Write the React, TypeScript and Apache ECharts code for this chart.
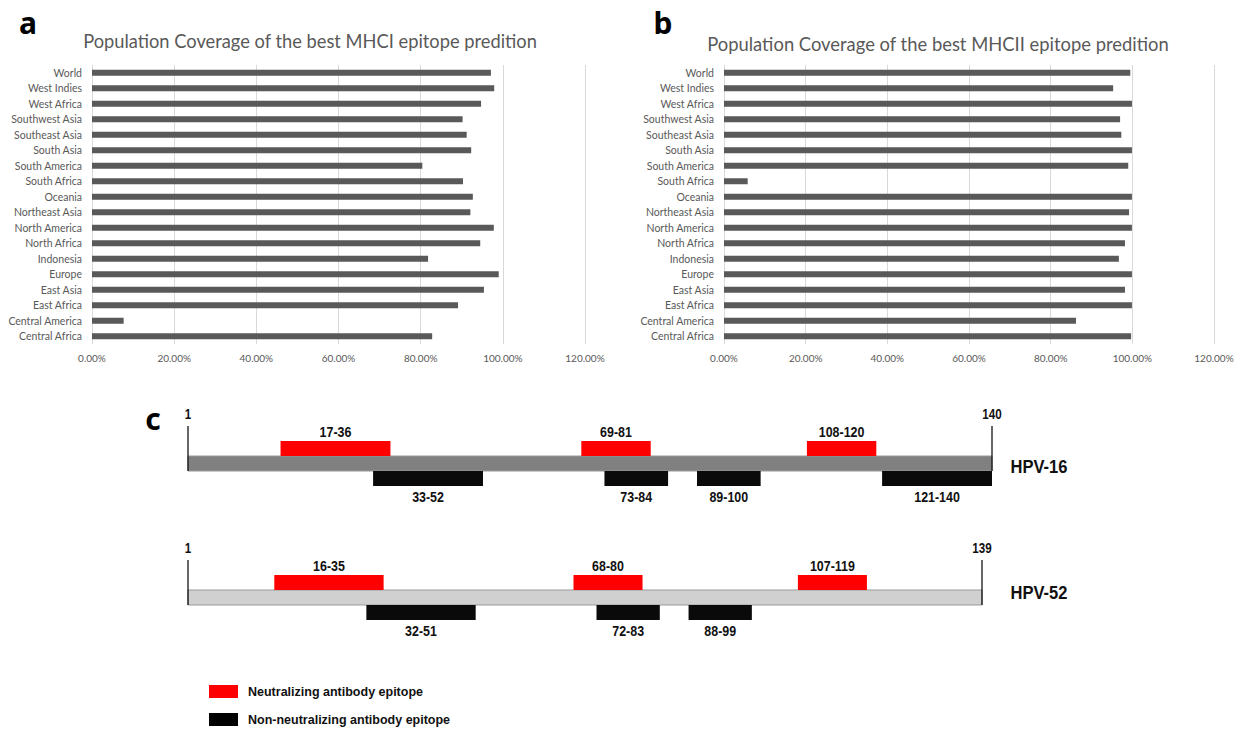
import React, { useEffect, useRef } from "react";
import * as echarts from "echarts";

const regions = ["World", "West Indies", "West Africa", "Southwest Asia", "Southeast Asia", "South Asia", "South America", "South Africa", "Oceania", "Northeast Asia", "North America", "North Africa", "Indonesia", "Europe", "East Asia", "East Africa", "Central America", "Central Africa"];
const mhc1Coverage = [97.1, 97.9, 94.7, 90.2, 91.2, 92.3, 80.4, 90.3, 92.7, 92.1, 97.8, 94.5, 81.8, 99.0, 95.4, 89.1, 7.7, 82.8];
const mhc2Coverage = [99.5, 95.3, 99.9, 97.0, 97.3, 99.9, 99.0, 5.8, 99.9, 99.2, 99.9, 98.2, 96.7, 99.9, 98.2, 99.9, 86.2, 99.7];
const coverageTicks = [0, 20, 40, 60, 80, 100, 120];

const hpv16Length = 140;
const hpv16Neutralizing = [[17, 36], [69, 81], [108, 120]];
const hpv16NonNeutralizing = [[33, 52], [73, 84], [89, 100], [121, 140]];
const hpv52Length = 139;
const hpv52Neutralizing = [[16, 35], [68, 80], [107, 119]];
const hpv52NonNeutralizing = [[32, 51], [72, 83], [88, 99]];

const NEUT = "Neutralizing antibody epitope";
const NONNEUT = "Non-neutralizing antibody epitope";
const BOLDF = '"Liberation Sans", Arial, sans-serif';
const NARROW_SCALE = 0.83;

function barPanel(gridIndex: number, values: number[]) {
  return {
    xAxis: {
      type: "value", gridIndex, min: coverageTicks[0], max: coverageTicks[coverageTicks.length - 1], interval: 20,
      axisLine: { show: false }, axisTick: { show: false },
      splitLine: { show: true, lineStyle: { color: "#d9d9d9", width: 1 } },
      axisLabel: { formatter: (v: number) => v.toFixed(2) + "%", color: "#595959", fontSize: 10, fontFamily: "Lato", margin: 9 },
    },
    yAxis: {
      type: "category", gridIndex, data: regions, inverse: true,
      axisLine: { show: false }, axisTick: { show: false },
      axisLabel: { color: "#595959", fontSize: 10.5, fontFamily: "Lato", margin: 10 },
    },
    series: {
      type: "bar", xAxisIndex: gridIndex, yAxisIndex: gridIndex, data: values, barWidth: 6,
      itemStyle: { color: "#595959" }, silent: true,
    },
  };
}

function narrowText(text: string, x: number, y: number, size: number) {
  return {
    type: "text", x, y, scaleX: NARROW_SCALE,
    style: { text, x: 0, y: 0, align: "center", verticalAlign: "middle", fontSize: size, fontWeight: "bold", fontFamily: BOLDF, fill: "#111" },
  };
}

function epitopeRender(lane: number) {
  return (params: any, api: any) => {
    const s = api.value(0);
    const e = api.value(1);
    const p0 = api.coord([s, lane + 1]);
    const p1 = api.coord([e, lane]);
    const cx = (p0[0] + p1[0]) / 2;
    const ty = lane === 2 ? p0[1] - 9 : p1[1] + 11;
    return {
      type: "group",
      children: [
        { type: "rect", shape: { x: p0[0], y: p0[1], width: p1[0] - p0[0], height: p1[1] - p0[1] }, style: { fill: lane === 2 ? "#ff0000" : "#0a0a0a" } },
        narrowText(`${s}-${e}`, cx, ty, 15),
      ],
    };
  };
}

function backboneRender(fill: string) {
  return (params: any, api: any) => {
    const s = api.value(0);
    const e = api.value(1);
    const p0 = api.coord([s, 2]);
    const p1 = api.coord([e, 1]);
    const top0 = api.coord([s, 4]);
    const top1 = api.coord([e, 4]);
    return {
      type: "group",
      children: [
        { type: "rect", shape: { x: p0[0], y: p0[1], width: p1[0] - p0[0], height: p1[1] - p0[1] }, style: { fill, stroke: "#9a9a9a", lineWidth: 1 } },
        { type: "line", shape: { x1: p0[0], y1: top0[1], x2: p0[0], y2: p1[1] }, style: { stroke: "#000", lineWidth: 1.2 } },
        { type: "line", shape: { x1: p1[0], y1: top1[1], x2: p1[0], y2: p1[1] }, style: { stroke: "#000", lineWidth: 1.2 } },
        narrowText(String(s), p0[0], top0[1] - 12, 14),
        narrowText(String(e), p1[0], top1[1] - 12, 14),
      ],
    };
  };
}

function proteinRow(gridIndex: number, length: number, neut: number[][], nonNeut: number[][], backboneColor: string) {
  return {
    xAxis: { type: "value", gridIndex, min: 1, max: length, show: false },
    yAxis: { type: "value", gridIndex, min: 0, max: 4, show: false },
    series: [
      { type: "custom", name: "backbone" + gridIndex, xAxisIndex: gridIndex, yAxisIndex: gridIndex, data: [[1, length]], renderItem: backboneRender(backboneColor), itemStyle: { color: backboneColor }, silent: true },
      { type: "custom", name: NEUT, xAxisIndex: gridIndex, yAxisIndex: gridIndex, data: neut, renderItem: epitopeRender(2), itemStyle: { color: "#ff0000" }, silent: true },
      { type: "custom", name: NONNEUT, xAxisIndex: gridIndex, yAxisIndex: gridIndex, data: nonNeut, renderItem: epitopeRender(0), itemStyle: { color: "#000000" }, silent: true },
    ],
  };
}

const legendCommon = {
  left: 209, padding: 0, icon: "rect", itemWidth: 29, itemHeight: 13, selectedMode: false,
  textStyle: { fontSize: 12.5, fontWeight: "bold", fontFamily: BOLDF, color: "#111", padding: [0, 0, 0, 5] },
};

export default function App() {
  const ref = useRef<HTMLDivElement>(null);
  useEffect(() => {
    if (!ref.current) return;
    const chart = echarts.init(ref.current, null, { renderer: "svg" });
    const a = barPanel(0, mhc1Coverage);
    const b = barPanel(1, mhc2Coverage);
    const r16 = proteinRow(2, hpv16Length, hpv16Neutralizing, hpv16NonNeutralizing, "#808080");
    const r52 = proteinRow(3, hpv52Length, hpv52Neutralizing, hpv52NonNeutralizing, "#d0d0d0");
    chart.setOption({
      animation: false,
      backgroundColor: "#ffffff",
      grid: [
        { left: 92, top: 65, width: 493, height: 279 },
        { left: 724, top: 65, width: 490, height: 279 },
        { left: 188, top: 426, width: 804, height: 60 },
        { left: 188, top: 560, width: 794, height: 60 },
      ],
      xAxis: [a.xAxis, b.xAxis, r16.xAxis, r52.xAxis],
      yAxis: [a.yAxis, b.yAxis, r16.yAxis, r52.yAxis],
      series: [a.series, b.series, ...r16.series, ...r52.series],
      legend: [
        { ...legendCommon, data: [NEUT], top: 685 },
        { ...legendCommon, data: [NONNEUT], top: 713 },
      ],
      graphic: [
        { type: "text", x: 28, y: 22, style: { text: "a", fontSize: 30, fontWeight: "bold", fontFamily: "Noto Sans", fill: "#000", align: "center", verticalAlign: "middle" } },
        { type: "text", x: 663, y: 22, style: { text: "b", fontSize: 30, fontWeight: "bold", fontFamily: "Noto Sans", fill: "#000", align: "center", verticalAlign: "middle" } },
        { type: "text", x: 153, y: 418, style: { text: "c", fontSize: 30, fontWeight: "bold", fontFamily: "Noto Sans", fill: "#000", align: "center", verticalAlign: "middle" } },
        { type: "text", x: 310, y: 41, style: { text: "Population Coverage of the best MHCI epitope predition", fontSize: 18.3, fontFamily: "Lato", fill: "#595959", align: "center", verticalAlign: "middle" } },
        { type: "text", x: 938, y: 44, style: { text: "Population Coverage of the best MHCII epitope predition", fontSize: 18.4, fontFamily: "Lato", fill: "#595959", align: "center", verticalAlign: "middle" } },
        { ...narrowText("HPV-16", 1039, 467, 19), scaleX: 0.87 },
        { ...narrowText("HPV-52", 1039, 593, 19), scaleX: 0.87 },
      ],
    });
    return () => chart.dispose();
  }, []);
  return <div ref={ref} style={{ position: "fixed", left: 0, top: 0, width: 1240, height: 731 }} />;
}
